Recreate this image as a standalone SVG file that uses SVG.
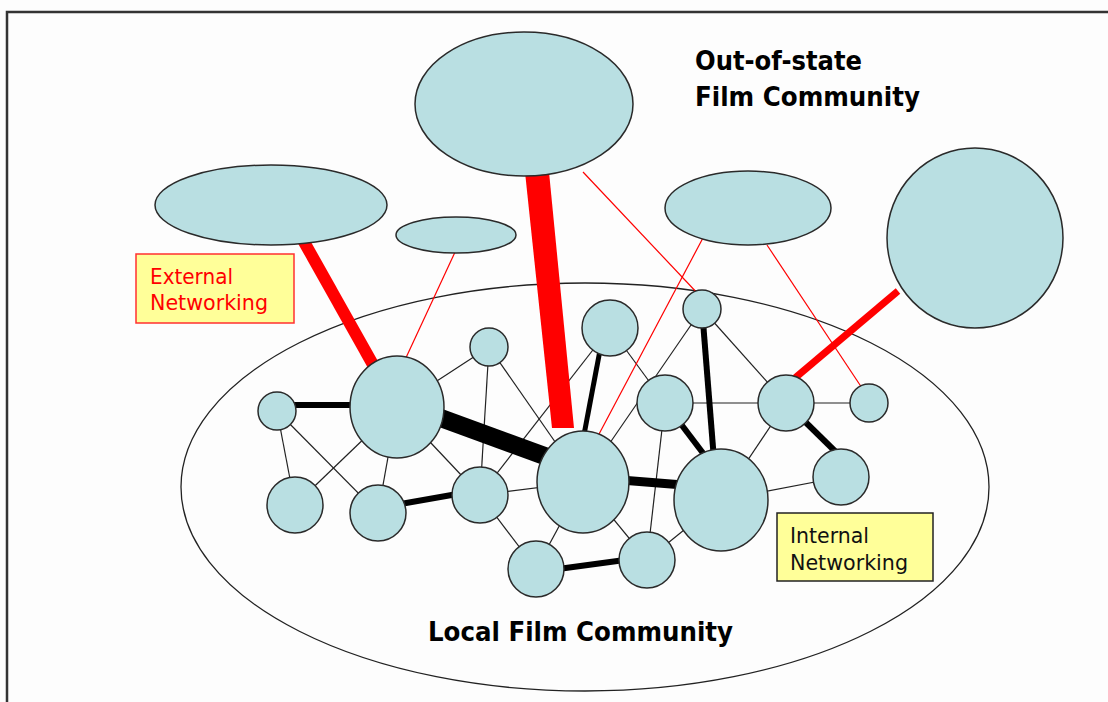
<svg xmlns="http://www.w3.org/2000/svg" width="1108" height="702" viewBox="0 0 1108 702">
<style>
.n{fill:#b9dfe2;stroke:#2a2a2a;stroke-width:1.5}
.t{stroke:#222;stroke-width:1.2;fill:none}
.k{stroke:#000;fill:none}
.r{stroke:#ff0000;fill:none}
.lbl{font-family:"DejaVu Sans",Verdana,sans-serif;font-size:21px}
.big{font-family:"DejaVu Sans",Verdana,sans-serif;font-size:27px;font-weight:bold;fill:#000}
</style>
<rect x="0" y="0" width="1108" height="702" fill="#fdfdfd"/>
<path d="M7,702 V12 H1108" fill="none" stroke="#333" stroke-width="2.5"/>
<g id="local-community">
<ellipse cx="585" cy="487" rx="404" ry="204" fill="none" stroke="#222" stroke-width="1.3"/>
</g>
<g id="connectors">
<line class="t" x1="277" y1="411" x2="295" y2="505"/>
<line class="t" x1="277" y1="411" x2="378" y2="513"/>
<line class="t" x1="397" y1="407" x2="295" y2="505"/>
<line class="t" x1="397" y1="407" x2="378" y2="513"/>
<line class="t" x1="397" y1="407" x2="489" y2="347"/>
<line class="t" x1="397" y1="407" x2="480" y2="495"/>
<line class="t" x1="489" y1="347" x2="480" y2="495"/>
<line class="t" x1="489" y1="347" x2="583" y2="482"/>
<line class="t" x1="480" y1="495" x2="583" y2="482"/>
<line class="t" x1="480" y1="495" x2="536" y2="569"/>
<line class="t" x1="480" y1="495" x2="610" y2="328"/>
<line class="t" x1="610" y1="328" x2="665" y2="403"/>
<line class="t" x1="583" y1="482" x2="702" y2="309"/>
<line class="t" x1="583" y1="482" x2="647" y2="560"/>
<line class="t" x1="583" y1="482" x2="536" y2="569"/>
<line class="t" x1="665" y1="403" x2="647" y2="560"/>
<line class="t" x1="647" y1="560" x2="721" y2="500"/>
<line class="t" x1="702" y1="309" x2="786" y2="403"/>
<line class="t" x1="665" y1="403" x2="786" y2="403"/>
<line class="t" x1="786" y1="403" x2="869" y2="403"/>
<line class="t" x1="786" y1="403" x2="721" y2="500"/>
<line class="t" x1="721" y1="500" x2="841" y2="477"/>
<line class="k" stroke-width="6" x1="277" y1="405" x2="397" y2="405"/>
<line class="k" stroke-width="18" x1="397" y1="402" x2="583" y2="470"/>
<line class="k" stroke-width="6" x1="378" y1="508" x2="480" y2="490"/>
<line class="k" stroke-width="5" x1="601" y1="345" x2="583" y2="440"/>
<line class="k" stroke-width="9" x1="583" y1="477" x2="721" y2="488"/>
<line class="k" stroke-width="6" x1="665" y1="403" x2="712" y2="465"/>
<line class="k" stroke-width="6" x1="702" y1="309" x2="714" y2="460"/>
<line class="k" stroke-width="6" x1="786" y1="403" x2="841" y2="457"/>
<line class="k" stroke-width="6" x1="536" y1="572" x2="647" y2="557"/>
<line class="r" stroke-width="12" x1="303" y1="240" x2="376" y2="370"/>
<line class="r" stroke-width="1.2" x1="456" y1="250" x2="404" y2="362"/>
<polygon points="525,172 549,172 574,428 552,428" fill="#ff0000"/>
<line class="r" stroke-width="1.2" x1="583" y1="172" x2="700" y2="296"/>
<line class="r" stroke-width="1.2" x1="704" y1="236" x2="598" y2="436"/>
<line class="r" stroke-width="1.2" x1="767" y1="245" x2="862" y2="388"/>
<line class="r" stroke-width="7" x1="898" y1="291" x2="795" y2="378"/>
</g>
<g id="out-left"><ellipse class="n" cx="271" cy="205" rx="116" ry="40"/></g>
<g id="out-small"><ellipse class="n" cx="456" cy="235" rx="60" ry="18"/></g>
<g id="out-top"><ellipse class="n" cx="524" cy="104" rx="109" ry="72"/></g>
<g id="out-mid"><ellipse class="n" cx="748" cy="208" rx="83" ry="37"/></g>
<g id="out-right"><ellipse class="n" cx="975" cy="238" rx="88" ry="90"/></g>
<g id="nA"><circle class="n" cx="277" cy="411" r="19"/></g>
<g id="nB"><ellipse class="n" cx="397" cy="407" rx="47" ry="51"/></g>
<g id="nC"><circle class="n" cx="489" cy="347" r="19"/></g>
<g id="nD"><circle class="n" cx="295" cy="505" r="28"/></g>
<g id="nE"><circle class="n" cx="378" cy="513" r="28"/></g>
<g id="nF"><circle class="n" cx="480" cy="495" r="28"/></g>
<g id="nG"><circle class="n" cx="610" cy="328" r="28"/></g>
<g id="nH"><ellipse class="n" cx="583" cy="482" rx="46" ry="51"/></g>
<g id="nI"><circle class="n" cx="665" cy="403" r="28"/></g>
<g id="nJ"><circle class="n" cx="702" cy="309" r="19"/></g>
<g id="nK"><ellipse class="n" cx="721" cy="500" rx="47" ry="51"/></g>
<g id="nL"><circle class="n" cx="786" cy="403" r="28"/></g>
<g id="nM"><circle class="n" cx="869" cy="403" r="19"/></g>
<g id="nN"><circle class="n" cx="841" cy="477" r="28"/></g>
<g id="nO"><circle class="n" cx="536" cy="569" r="28"/></g>
<g id="nP"><circle class="n" cx="647" cy="560" r="28"/></g>
<g id="label-external">
<rect x="136" y="254" width="158" height="69" fill="#ffff99" stroke="#ff3030" stroke-width="1.5"/>
<text class="lbl" x="150" y="284" fill="#ff0000" textLength="83" lengthAdjust="spacingAndGlyphs">External</text>
<text class="lbl" x="150" y="310" fill="#ff0000" textLength="118" lengthAdjust="spacingAndGlyphs">Networking</text>
</g>
<g id="label-internal">
<rect x="777" y="513" width="156" height="68" fill="#ffff99" stroke="#222" stroke-width="1.5"/>
<text class="lbl" x="790" y="543" fill="#111" textLength="79" lengthAdjust="spacingAndGlyphs">Internal</text>
<text class="lbl" x="790" y="570" fill="#111" textLength="118" lengthAdjust="spacingAndGlyphs">Networking</text>
</g>
<g id="titles">
<text class="big" x="695" y="70" textLength="167" lengthAdjust="spacingAndGlyphs">Out-of-state</text>
<text class="big" x="695" y="106" textLength="225" lengthAdjust="spacingAndGlyphs">Film Community</text>
<text class="big" x="428" y="641" textLength="305" lengthAdjust="spacingAndGlyphs">Local Film Community</text>
</g>
</svg>
